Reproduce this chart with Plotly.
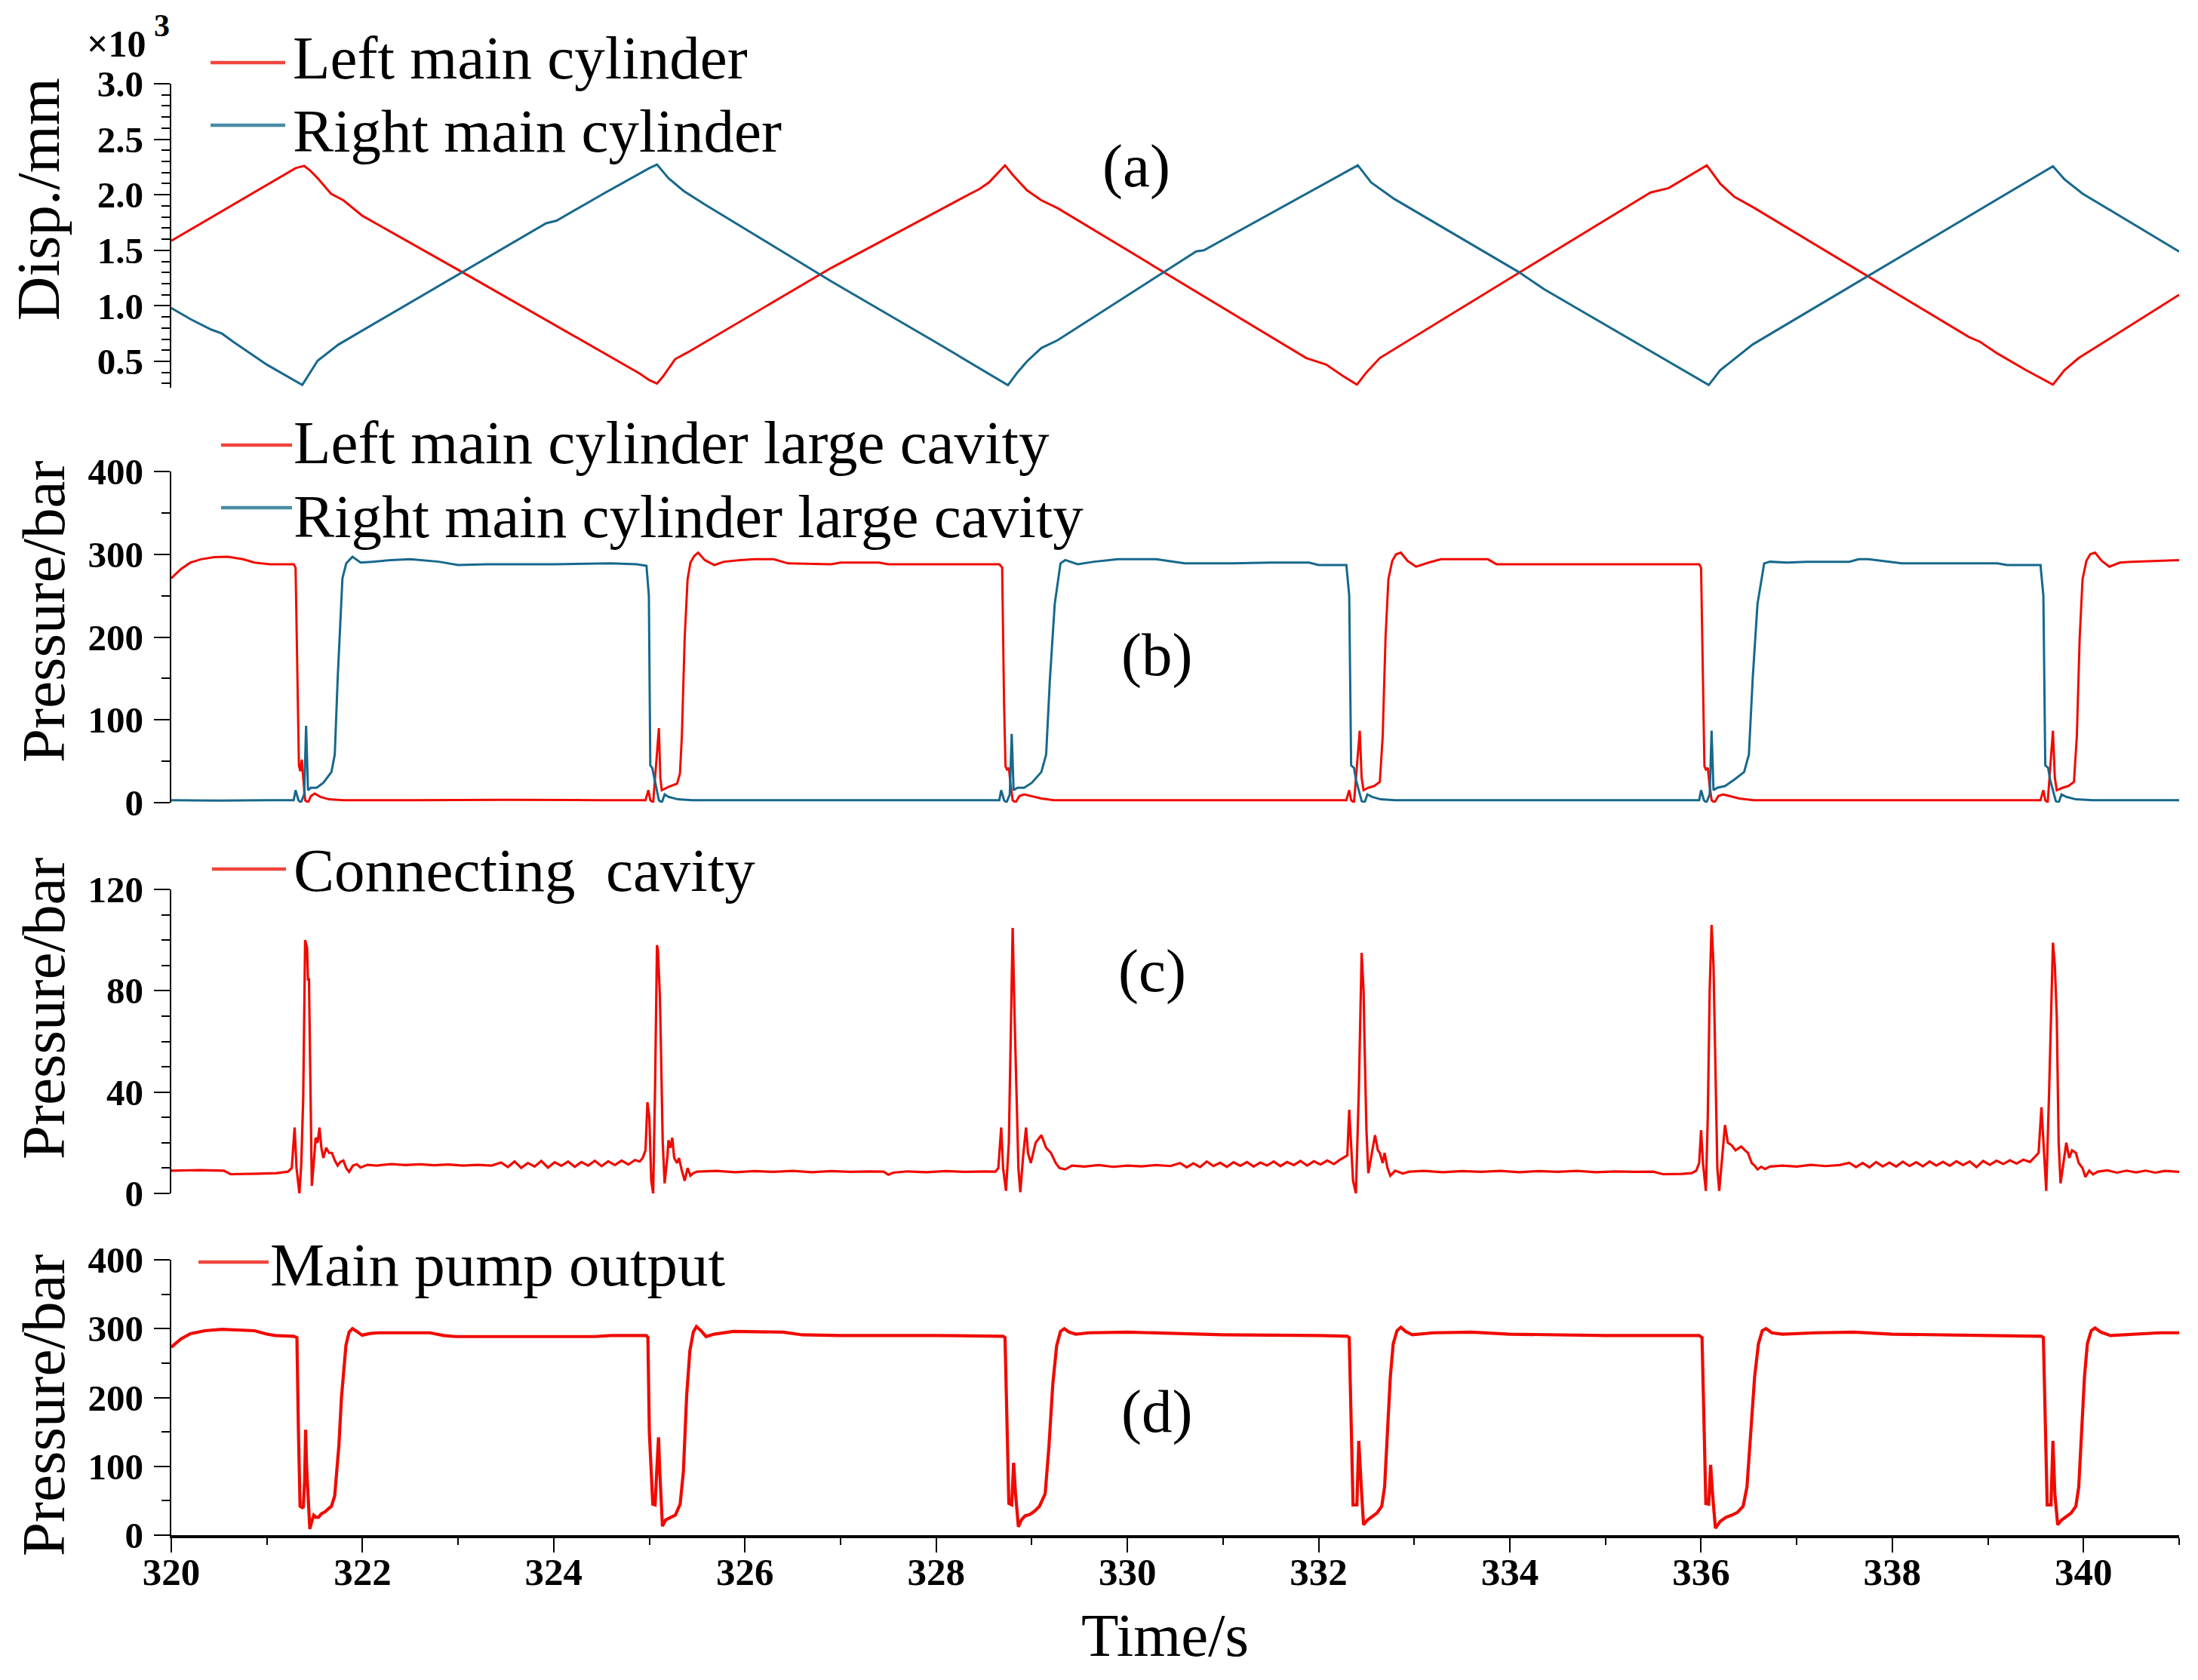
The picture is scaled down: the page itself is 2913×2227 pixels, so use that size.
import plotly.graph_objects as go

# ---------------- data (time in s) ----------------
# (a) displacement, in x10^3 mm
DISP_LEFT = [
    (320.00, 1.585), (320.60, 1.89), (321.00, 2.09), (321.30, 2.24), (321.39, 2.26), (321.45, 2.22),
    (321.53, 2.15), (321.67, 2.01), (321.80, 1.95), (322.00, 1.81), (323.08, 1.285), (324.00, 0.83),
    (324.90, 0.39), (325.00, 0.33), (325.08, 0.30), (325.14, 0.36), (325.27, 0.52), (325.40, 0.58),
    (326.90, 1.34), (328.38, 2.02), (328.45, 2.05), (328.55, 2.11), (328.72, 2.265), (328.80, 2.18),
    (328.95, 2.04), (329.10, 1.95), (329.27, 1.88), (331.87, 0.53), (332.00, 0.49), (332.08, 0.47),
    (332.25, 0.37), (332.40, 0.29), (332.50, 0.40), (332.64, 0.53), (334.10, 1.30), (335.47, 2.02),
    (335.66, 2.06), (335.90, 2.18), (336.06, 2.265), (336.20, 2.10), (336.35, 1.98), (336.54, 1.89),
    (338.80, 0.72), (338.92, 0.675), (339.10, 0.57), (339.40, 0.42), (339.68, 0.29), (339.80, 0.42),
    (339.95, 0.53), (341.00, 1.10),
]
DISP_RIGHT = [
    (320.00, 0.98), (320.20, 0.88), (320.42, 0.785), (320.53, 0.75), (320.65, 0.675), (321.00, 0.47),
    (321.37, 0.287), (321.45, 0.40), (321.53, 0.505), (321.75, 0.652), (322.80, 1.18), (323.92, 1.743),
    (324.03, 1.767), (324.50, 2.00), (325.00, 2.24), (325.08, 2.272), (325.20, 2.15), (325.36, 2.034),
    (325.58, 1.913), (326.90, 1.222), (328.00, 0.67), (328.60, 0.36), (328.75, 0.285), (328.85, 0.40),
    (328.95, 0.50), (329.10, 0.62), (329.27, 0.69), (330.72, 1.49), (330.80, 1.50), (332.41, 2.265),
    (332.55, 2.11), (332.79, 1.963), (334.09, 1.306), (334.36, 1.148), (336.08, 0.287), (336.20, 0.42),
    (336.54, 0.652), (339.68, 2.257), (339.80, 2.14), (339.99, 2.01), (341.00, 1.488),
]

# (b) large cavity pressures, bar
LEFT_CAVITY = [
    (320.00, 271), (320.10, 282), (320.20, 290), (320.31, 294), (320.45, 296.5), (320.59, 297),
    (320.75, 294), (320.87, 290), (321.03, 288), (321.28, 288),
    (321.30, 284), (321.32, 120), (321.335, 45), (321.35, 38), (321.365, 52), (321.38, 30), (321.40, 3),
    (321.43, 0), (321.46, 8), (321.50, 11), (321.56, 7), (321.65, 4), (321.80, 3), (322.5, 3),
    (323.5, 3.5), (324.5, 3), (324.96, 3),
    (324.99, 15), (325.01, 3), (325.04, 0), (325.08, 60), (325.10, 90), (325.115, 30), (325.13, 15),
    (325.20, 19), (325.26, 22), (325.29, 23), (325.32, 35), (325.34, 80), (325.37, 200), (325.40, 270),
    (325.43, 290), (325.47, 298), (325.51, 302), (325.58, 293), (325.68, 287), (325.78, 291),
    (325.95, 293), (326.10, 294), (326.30, 294), (326.45, 289), (326.90, 288), (327.00, 290),
    (327.40, 290), (327.50, 288), (328.66, 288),
    (328.69, 284), (328.71, 120), (328.725, 44), (328.74, 40), (328.76, 42), (328.78, 20), (328.80, 3),
    (328.83, 0), (328.87, 8), (328.92, 10), (329.00, 8), (329.10, 5), (329.23, 3), (331.0, 3),
    (332.29, 3),
    (332.32, 15), (332.34, 3), (332.37, 0), (332.41, 60), (332.43, 87), (332.45, 30), (332.47, 15),
    (332.52, 18), (332.58, 20), (332.64, 25), (332.67, 80), (332.70, 200), (332.73, 270), (332.77, 292),
    (332.81, 300), (332.86, 302), (332.93, 292), (333.02, 285), (333.15, 290), (333.28, 294),
    (333.77, 294), (333.86, 288), (335.98, 288),
    (336.00, 284), (336.02, 120), (336.035, 44), (336.05, 40), (336.07, 42), (336.09, 20), (336.11, 3),
    (336.14, 0), (336.18, 8), (336.23, 10), (336.30, 8), (336.40, 5), (336.55, 3), (338.0, 3),
    (339.55, 3),
    (339.58, 15), (339.60, 3), (339.625, 0), (339.66, 60), (339.68, 87), (339.70, 30), (339.72, 15),
    (339.78, 18), (339.84, 20), (339.90, 25), (339.93, 80), (339.96, 200), (339.99, 270), (340.03, 292),
    (340.07, 300), (340.12, 302), (340.19, 292), (340.27, 285), (340.38, 290), (340.50, 291),
    (340.70, 292), (341.0, 293),
]
RIGHT_CAVITY = [
    (320.00, 3), (320.5, 2.5), (321.0, 3), (321.28, 3),
    (321.30, 15), (321.33, 3), (321.355, 0), (321.39, 10), (321.41, 93), (321.43, 15), (321.46, 18),
    (321.52, 18), (321.59, 24), (321.675, 37), (321.71, 58), (321.74, 149), (321.79, 271),
    (321.83, 289), (321.895, 297), (321.98, 290), (322.10, 291), (322.30, 293), (322.50, 294),
    (322.80, 291), (323.00, 287), (323.30, 288), (324.00, 288), (324.60, 289), (324.87, 288),
    (324.97, 286),
    (324.995, 250), (325.01, 45), (325.03, 42), (325.05, 30), (325.07, 20), (325.10, 3), (325.13, 0),
    (325.16, 10), (325.20, 7), (325.30, 4), (325.45, 3), (327.0, 3), (328.66, 3),
    (328.68, 15), (328.71, 3), (328.735, 0), (328.77, 10), (328.79, 83), (328.81, 15), (328.85, 18),
    (328.92, 18), (329.00, 24), (329.10, 37), (329.15, 58), (329.19, 150), (329.24, 240), (329.30, 289),
    (329.35, 293), (329.48, 288), (329.65, 291), (329.90, 294), (330.30, 294), (330.60, 289),
    (331.10, 289), (331.50, 290), (331.90, 290), (332.00, 287), (332.29, 287),
    (332.32, 250), (332.34, 45), (332.37, 42), (332.39, 28), (332.42, 15), (332.45, 2), (332.48, 0),
    (332.51, 10), (332.56, 7), (332.65, 4), (332.80, 3), (335.98, 3),
    (336.00, 15), (336.03, 3), (336.055, 0), (336.09, 10), (336.11, 87), (336.13, 15), (336.17, 18),
    (336.25, 20), (336.35, 28), (336.45, 37), (336.50, 58), (336.54, 150), (336.59, 240), (336.66, 289),
    (336.72, 291), (336.90, 290), (337.10, 291), (337.55, 291), (337.65, 294), (337.75, 294),
    (338.10, 289), (339.10, 289), (339.20, 287), (339.55, 287),
    (339.58, 250), (339.60, 45), (339.63, 42), (339.65, 28), (339.68, 15), (339.71, 2), (339.74, 0),
    (339.77, 10), (339.82, 7), (339.92, 4), (340.10, 3), (341.0, 3),
]

# (c) connecting cavity pressure, bar
CONNECTING = [
    (320.00, 9.0), (320.30, 9.2), (320.55, 9.0), (320.62, 7.6), (320.90, 7.8), (321.10, 8.0), (321.22, 8.6),
    (321.26, 10), (321.29, 26), (321.31, 10), (321.34, 0), (321.36, 12), (321.38, 38), (321.40, 100),
    (321.42, 97), (321.43, 84), (321.44, 85), (321.46, 30), (321.47, 3), (321.49, 12), (321.51, 22),
    (321.53, 20), (321.55, 26), (321.57, 18), (321.59, 14), (321.62, 18), (321.65, 16), (321.68, 16),
    (321.71, 13), (321.74, 11), (321.77, 12.5), (321.80, 13), (321.83, 10), (321.86, 8.5), (321.90, 11),
    (321.94, 11.5), (321.98, 10.2), (322.05, 11.3), (322.15, 11.0), (322.30, 11.6), (322.45, 11.2),
    (322.60, 11.5), (322.75, 11.1), (322.90, 11.4), (323.05, 11.0), (323.20, 11.3), (323.35, 11.0),
    (323.45, 12.2), (323.52, 10.4), (323.59, 12.6), (323.66, 10.1), (323.73, 12.0), (323.80, 10.6),
    (323.87, 12.8), (323.94, 10.2), (324.01, 12.3), (324.08, 10.9), (324.15, 12.6), (324.22, 10.5),
    (324.29, 12.4), (324.36, 11.0), (324.43, 12.9), (324.50, 10.8), (324.57, 12.7), (324.64, 11.2),
    (324.71, 13.0), (324.78, 11.4), (324.85, 13.2), (324.90, 12.6),
    (324.93, 14), (324.96, 17), (324.98, 36), (325.00, 30), (325.02, 5), (325.04, 0), (325.06, 42),
    (325.08, 98), (325.09, 96), (325.11, 78), (325.12, 60), (325.14, 20), (325.16, 4), (325.19, 15),
    (325.20, 21), (325.22, 18), (325.24, 22), (325.26, 14), (325.29, 12), (325.31, 14), (325.34, 9),
    (325.37, 5), (325.40, 10), (325.43, 7), (325.46, 8), (325.50, 8.6), (325.70, 8.9), (325.90, 8.4),
    (326.10, 8.8), (326.30, 8.5), (326.50, 8.9), (326.70, 8.4), (326.90, 8.8), (327.10, 8.5),
    (327.30, 8.7), (327.45, 8.6), (327.50, 7.4), (327.55, 8.2), (327.70, 8.7), (327.90, 8.4),
    (328.10, 8.8), (328.30, 8.5), (328.50, 8.7), (328.62, 8.6),
    (328.65, 10), (328.68, 26), (328.70, 10), (328.73, 1), (328.76, 20), (328.78, 60), (328.80, 104.8),
    (328.82, 70), (328.84, 40), (328.86, 10), (328.88, 0.5), (328.91, 15), (328.94, 26), (328.96, 16),
    (328.99, 12), (329.04, 20), (329.10, 23), (329.15, 18), (329.20, 16), (329.25, 12), (329.29, 10),
    (329.35, 9.5), (329.42, 11), (329.55, 10.6), (329.70, 11.2), (329.85, 10.5), (330.00, 11.0),
    (330.15, 10.7), (330.30, 11.2), (330.45, 10.8),
    (330.55, 12.0), (330.62, 10.3), (330.69, 11.9), (330.76, 10.4), (330.83, 12.6), (330.90, 10.8),
    (330.97, 12.1), (331.04, 10.5), (331.11, 12.3), (331.18, 10.9), (331.25, 12.4), (331.32, 10.6),
    (331.39, 12.2), (331.46, 11.0), (331.53, 12.6), (331.60, 10.8), (331.67, 12.4), (331.74, 11.2),
    (331.81, 12.8), (331.88, 11.0), (331.95, 12.7), (332.02, 11.4), (332.09, 13.0), (332.16, 11.6),
    (332.22, 13.2),
    (332.26, 14), (332.30, 15), (332.32, 33), (332.34, 20), (332.36, 5), (332.39, 0), (332.42, 40),
    (332.45, 95), (332.47, 80), (332.48, 60), (332.50, 25), (332.52, 8), (332.55, 15), (332.59, 23),
    (332.62, 17), (332.64, 16), (332.67, 12), (332.69, 16), (332.72, 10), (332.75, 7), (332.80, 9),
    (332.88, 7.9), (332.95, 8.6), (333.10, 8.9), (333.30, 8.4), (333.50, 8.8), (333.70, 8.5),
    (333.90, 8.9), (334.10, 8.4), (334.30, 8.8), (334.50, 8.5), (334.70, 8.9), (334.90, 8.4),
    (335.10, 8.7), (335.30, 8.5), (335.50, 8.6), (335.60, 7.6), (335.80, 7.7), (335.90, 8.0),
    (335.95, 9), (335.98, 12), (336.00, 25), (336.02, 12), (336.05, 1), (336.07, 30), (336.09, 80),
    (336.11, 106), (336.13, 90), (336.15, 50), (336.17, 10), (336.19, 1), (336.22, 15), (336.25, 27),
    (336.28, 20), (336.32, 19), (336.36, 17), (336.42, 18.5), (336.46, 17), (336.49, 16), (336.53, 12),
    (336.56, 11), (336.59, 9.5), (336.63, 10.5), (336.67, 9.6), (336.72, 10.6), (336.85, 11.0),
    (337.00, 10.6), (337.15, 11.3), (337.30, 10.8), (337.45, 11.2),
    (337.55, 12.1), (337.62, 10.4), (337.69, 12.0), (337.76, 10.3), (337.83, 12.4), (337.90, 10.7),
    (337.97, 12.2), (338.04, 10.6), (338.11, 12.5), (338.18, 10.8), (338.25, 12.3), (338.32, 10.7),
    (338.39, 12.6), (338.46, 11.0), (338.53, 12.5), (338.60, 10.9), (338.67, 12.7), (338.74, 11.2),
    (338.81, 12.6), (338.88, 10.4), (338.95, 12.8), (339.02, 11.3), (339.09, 12.9), (339.16, 11.6),
    (339.23, 13.1), (339.30, 11.8), (339.37, 13.3), (339.44, 12.4),
    (339.48, 14), (339.53, 16), (339.56, 34), (339.58, 20), (339.61, 1), (339.64, 40), (339.68, 99),
    (339.70, 90), (339.72, 70), (339.74, 20), (339.76, 4), (339.79, 12), (339.82, 20), (339.85, 14),
    (339.88, 17), (339.92, 16), (339.95, 12), (339.99, 10), (340.02, 6.5), (340.06, 9), (340.10, 7.5),
    (340.15, 8.6), (340.25, 9.1), (340.35, 8.2), (340.45, 9.0), (340.55, 8.3), (340.65, 9.0),
    (340.75, 8.2), (340.85, 8.9), (341.00, 8.5),
]

# (d) main pump output pressure, bar
PUMP = [
    (320.00, 273), (320.10, 285), (320.20, 292.6), (320.35, 297), (320.53, 299), (320.70, 298),
    (320.87, 297), (321.00, 292), (321.09, 290), (321.28, 289),
    (321.314, 287), (321.33, 150), (321.347, 42), (321.37, 40), (321.381, 41), (321.395, 80),
    (321.405, 153), (321.415, 100), (321.422, 80), (321.435, 30), (321.449, 9), (321.47, 20),
    (321.49, 29), (321.515, 26), (321.54, 26), (321.57, 31), (321.608, 34), (321.64, 38),
    (321.675, 42), (321.709, 57), (321.73, 90), (321.753, 130), (321.78, 200), (321.80, 239),
    (321.827, 276), (321.86, 295), (321.895, 300), (321.94, 296), (321.996, 290.5), (322.08, 293),
    (322.165, 294), (322.705, 294), (322.85, 290), (322.975, 288.5), (324.428, 288.5), (324.60, 290),
    (324.968, 290),
    (324.985, 287), (325.00, 150), (325.036, 45), (325.06, 44), (325.08, 100), (325.096, 142),
    (325.11, 90), (325.137, 13), (325.17, 22), (325.204, 25), (325.24, 27), (325.272, 29), (325.30, 38),
    (325.322, 45), (325.356, 92), (325.39, 202), (325.424, 268), (325.46, 295), (325.492, 303),
    (325.54, 297), (325.593, 288.5), (325.677, 292), (325.88, 296), (326.11, 296), (326.40, 295),
    (326.60, 291), (327.0, 290), (328.0, 290), (328.6, 289), (328.70, 289),
    (328.72, 287), (328.74, 150), (328.76, 46), (328.79, 44), (328.81, 105), (328.83, 60), (328.86, 12),
    (328.89, 22), (328.93, 28), (328.98, 30), (329.03, 35), (329.08, 42), (329.14, 60), (329.18, 130),
    (329.22, 220), (329.26, 275), (329.30, 296), (329.34, 300), (329.39, 295), (329.46, 292),
    (329.6, 294), (330.0, 295), (330.4, 293), (331.0, 291), (332.0, 290), (332.30, 289),
    (332.32, 287), (332.34, 150), (332.36, 44), (332.40, 44), (332.42, 137), (332.45, 60), (332.47, 15),
    (332.51, 22), (332.56, 27), (332.61, 32), (332.66, 42), (332.69, 70), (332.72, 150), (332.75, 230),
    (332.78, 278), (332.82, 297), (332.86, 302), (332.91, 296), (332.98, 291), (333.2, 294),
    (333.6, 295), (334.0, 292), (335.0, 290), (335.98, 290),
    (336.01, 287), (336.03, 150), (336.05, 46), (336.08, 45), (336.10, 102), (336.12, 60), (336.15, 10),
    (336.20, 20), (336.26, 26), (336.32, 29), (336.38, 33), (336.44, 42), (336.48, 70), (336.52, 150),
    (336.56, 230), (336.60, 278), (336.64, 297), (336.68, 300), (336.74, 294), (336.85, 292),
    (337.2, 294), (337.6, 295), (338.0, 292), (339.0, 290), (339.56, 289),
    (339.58, 287), (339.60, 150), (339.62, 44), (339.66, 44), (339.68, 137), (339.70, 60), (339.73, 15),
    (339.77, 22), (339.82, 27), (339.87, 32), (339.92, 42), (339.95, 70), (339.98, 150), (340.01, 230),
    (340.04, 278), (340.08, 297), (340.12, 301), (340.18, 295), (340.28, 290), (340.5, 292),
    (340.8, 294), (341.0, 294),
]

X_TICKS = [320, 322, 324, 326, 328, 330, 332, 334, 336, 338, 340]
DISP_TICKS = [0.5, 1.0, 1.5, 2.0, 2.5, 3.0]

# ---------------- figure ----------------
W, H = 2913, 2227
RED = '#F00A00'
BLUE = '#17688C'
LEG_RED = '#F0463C'
LEG_BLUE = '#4A8BA5'
FONT = 'Liberation Serif, Times New Roman, serif'


def fx(p):
    return p / W


def fy(p):
    return 1 - p / H


fig = go.Figure()


def add(series, color, yaxis, width=3.0):
    t, v = zip(*series)
    fig.add_trace(go.Scatter(x=list(t), y=list(v), mode='lines', xaxis='x', yaxis=yaxis,
                             line=dict(color=color, width=width), showlegend=False,
                             hoverinfo='skip'))


add(DISP_LEFT, RED, 'y4')
add(DISP_RIGHT, BLUE, 'y4')
add(LEFT_CAVITY, RED, 'y3')
add(RIGHT_CAVITY, BLUE, 'y3')
add(CONNECTING, RED, 'y2', width=3.2)
add(PUMP, RED, 'y', width=4.2)

tickfont = dict(family=FONT, size=49, color='black', weight='bold')


def yax(dom_top, dom_bot, rng, **kw):
    d = dict(domain=[fy(dom_bot), fy(dom_top)], range=rng, anchor='x', automargin=False,
             showline=True, linecolor='black', linewidth=2.2, mirror=False,
             ticks='outside', ticklen=21, tickwidth=2.2, tickcolor='black',
             showgrid=False, zeroline=False, tickfont=tickfont, ticklabelstandoff=4)
    d.update(kw)
    return d


fig.update_layout(
    width=W, height=H,
    margin=dict(l=0, r=0, t=0, b=0, pad=0),
    paper_bgcolor='white', plot_bgcolor='white',
    showlegend=False,
    xaxis=dict(domain=[fx(227), fx(2888)], range=[320, 341], anchor='y', automargin=False,
               showline=True, linecolor='black', linewidth=3.5,
               ticks='outside', ticklen=19, tickwidth=2.2, tickcolor='black',
               tickvals=X_TICKS, ticktext=[str(v) for v in X_TICKS],
               minor=dict(ticks='outside', ticklen=9, tickwidth=2, tickcolor='black', dtick=1, tick0=320),
               showgrid=False, zeroline=False, tickfont=dict(family=FONT, size=51, color='black', weight='bold'),
               ticklabelstandoff=-18),
    yaxis=yax(1670, 2035, [0, 400], tickvals=[0, 100, 200, 300, 400],
              minor=dict(ticks='outside', ticklen=11, tickwidth=2, tickcolor='black', dtick=50, tick0=0)),
    yaxis2=yax(1179, 1582, [0, 120], tickvals=[0, 40, 80, 120],
               minor=dict(ticks='outside', ticklen=11, tickwidth=2, tickcolor='black', dtick=10, tick0=0)),
    yaxis3=yax(625, 1064, [0, 400], tickvals=[0, 100, 200, 300, 400],
               minor=dict(ticks='outside', ticklen=11, tickwidth=2, tickcolor='black', dtick=50, tick0=0)),
    yaxis4=yax(111, 514, [0.262, 3.0], tickvals=DISP_TICKS, ticktext=['%.1f' % v for v in DISP_TICKS],
               minor=dict(ticks='outside', ticklen=11, tickwidth=2, tickcolor='black', dtick=0.1, tick0=0)),
)

ann = []


def text(s, x, y, xanchor='left', size=81, weight='normal', angle=0):
    ann.append(dict(text=s, x=fx(x), y=fy(y), xref='paper', yref='paper', xanchor=xanchor,
                    yanchor='middle', showarrow=False, textangle=angle,
                    font=dict(family=FONT, size=size, color='black', weight=weight)))


# legends (manual: sample line + label)
shapes = []


def legline(x0, x1, y, color):
    shapes.append(dict(type='line', xref='paper', yref='paper', x0=fx(x0), x1=fx(x1), y0=fy(y), y1=fy(y),
                       line=dict(color=color, width=4.5)))


legline(279, 378, 83, LEG_RED)
legline(279, 378, 166, LEG_BLUE)
text('Left main cylinder', 386, 77)
text('Right main cylinder', 386, 174)

legline(293, 387, 590, LEG_RED)
legline(293, 387, 673, LEG_BLUE)
text('Left main cylinder large cavity', 387, 587)
text('Right main cylinder large cavity', 387, 685)

legline(281, 379, 1152, LEG_RED)
text('Connecting\u00a0 cavity', 387, 1154)

legline(263, 356, 1673, LEG_RED)
text('Main pump output', 356, 1677)

# axis titles
text('Disp./mm', 51, 264, xanchor='center', angle=-90)
text('Pressure/bar', 58, 811, xanchor='center', angle=-90)
text('Pressure/bar', 58, 1337, xanchor='center', angle=-90)
text('Pressure/bar', 58, 1863, xanchor='center', angle=-90)
text('Time/s', 1544, 2168, xanchor='center')

# panel labels
text('(a)', 1506, 220, xanchor='center')
text('(b)', 1533, 868, xanchor='center')
text('(c)', 1527, 1287, xanchor='center')
text('(d)', 1533, 1871, xanchor='center')

# exponent of the displacement axis
text('\u00d710', 196, 58, xanchor='right', size=50, weight='bold')
text('3', 202, 34, xanchor='left', size=42, weight='bold')

fig.update_layout(annotations=ann, shapes=shapes)

fig.write_html('out.html', config={'displayModeBar': False},
               post_script="document.body.style.margin='0';document.body.style.overflow='hidden';")
